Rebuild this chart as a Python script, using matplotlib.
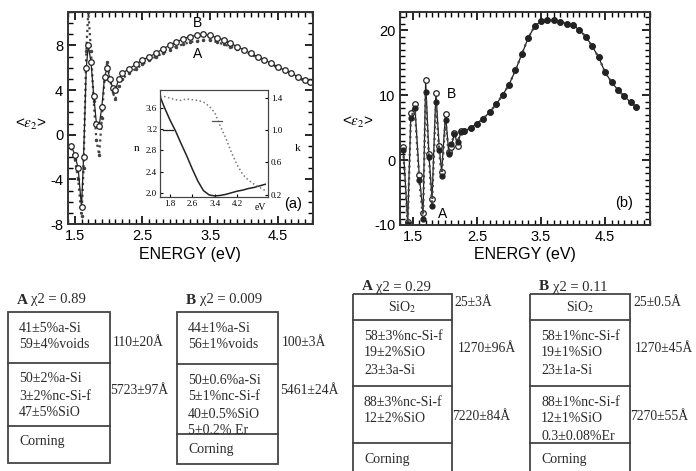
import matplotlib
matplotlib.use("Agg")
import matplotlib.pyplot as plt
from matplotlib.patches import Rectangle
from matplotlib.ticker import MultipleLocator

plt.rcParams["font.family"] = ["Liberation Sans", "DejaVu Sans"]
plt.rcParams["mathtext.fontset"] = "stix"
plt.rcParams["axes.unicode_minus"] = False

# ---- panel (a): pseudo-dielectric function, sample on Corning glass
energy_a = [1.45, 1.50, 1.55, 1.60, 1.63, 1.67, 1.70, 1.74, 1.78, 1.82, 1.86, 1.90,
            1.94, 1.98, 2.02, 2.06, 2.10, 2.15, 2.20, 2.30, 2.40, 2.50, 2.60, 2.70,
            2.80, 2.90, 3.00, 3.10, 3.20, 3.30, 3.40, 3.50, 3.60, 3.70, 3.80, 3.90,
            4.00, 4.10, 4.20, 4.30, 4.40, 4.50, 4.60, 4.70, 4.80, 4.90, 4.98]
eps2_a_B = [-1.0, -1.8, -3.0, -6.5, -2.0, 6.0, 8.0, 6.5, 3.5, 1.0, 0.8, 2.5,
            5.2, 6.0, 5.0, 4.2, 4.0, 5.0, 5.5, 5.9, 6.3, 6.7, 7.0, 7.3,
            7.7, 8.0, 8.3, 8.6, 8.8, 8.9, 9.0, 8.9, 8.7, 8.5, 8.2, 7.9,
            7.6, 7.3, 7.0, 6.7, 6.4, 6.1, 5.8, 5.5, 5.2, 4.9, 4.7]
eps2_a_A = [-1.2, -2.2, -4.0, -7.3, -3.0, 7.5, 11.0, 7.5, 3.0, -0.5, -1.8, 1.5,
            5.0, 6.5, 5.0, 3.8, 3.2, 4.4, 5.0, 5.5, 5.9, 6.3, 6.7, 7.0,
            7.3, 7.6, 7.9, 8.1, 8.3, 8.4, 8.5, 8.5, 8.3, 8.1, 7.9, 7.7,
            7.5, 7.2, 6.9, 6.6, 6.3, 6.0, 5.7, 5.4, 5.1, 4.8, 4.6]

# inset: optical constants n, k
energy_in = [1.45, 1.6, 1.8, 2.0, 2.2, 2.4, 2.6, 2.8, 3.0, 3.2, 3.4, 3.6, 3.8, 4.0,
             4.2, 4.4, 4.6, 4.8, 5.0, 5.2]
n_in = [3.82, 3.62, 3.38, 3.17, 2.93, 2.70, 2.45, 2.22, 2.04, 1.96, 1.94, 1.95, 1.97,
        2.00, 2.03, 2.05, 2.08, 2.10, 2.13, 2.16]
k_in = [1.42, 1.42, 1.40, 1.38, 1.37, 1.39, 1.38, 1.37, 1.35, 1.30, 1.22, 1.05, 0.90,
        0.72, 0.57, 0.45, 0.38, 0.33, 0.29, 0.25]

# ---- panel (b): sample on c-Si
energy_b = [1.35, 1.42, 1.47, 1.53, 1.60, 1.66, 1.70, 1.75, 1.80, 1.86, 1.91, 1.95,
            2.01, 2.06, 2.10, 2.15, 2.20, 2.25, 2.30, 2.40, 2.50, 2.60, 2.70, 2.80,
            2.90, 3.00, 3.10, 3.20, 3.30, 3.40, 3.50, 3.60, 3.70, 3.80, 3.90, 4.00,
            4.10, 4.20, 4.30, 4.40, 4.50, 4.60, 4.70, 4.80, 4.90, 4.98]
eps2_b_B = [2.0, -9.5, 7.2, 8.6, -2.3, -8.2, 12.3, 1.0, -6.0, 10.4, 2.2, -1.8,
            7.1, 1.2, 2.0, 4.2, 2.2, 4.5, 4.4, 5.0, 5.6, 6.4, 7.4, 8.6,
            10.0, 11.6, 13.8, 16.3, 18.8, 20.6, 21.4, 21.6, 21.5, 21.3, 21.0, 20.8,
            20.0, 19.0, 17.5, 15.8, 13.5, 12.0, 10.8, 9.8, 8.9, 8.2]
eps2_b_A = [1.5, -9.8, 6.5, 8.0, -3.0, -9.0, 10.5, 0.5, -7.0, 9.0, 1.5, -2.5,
            6.2, 1.0, 2.5, 4.0, 2.8, 4.3, 4.4, 5.0, 5.6, 6.4, 7.4, 8.6,
            10.0, 11.6, 13.8, 16.3, 18.8, 20.6, 21.4, 21.6, 21.5, 21.3, 21.0, 20.8,
            20.0, 19.0, 17.5, 15.8, 13.5, 12.0, 10.8, 9.8, 8.9, 8.2]

# ---- layer stacks (fit models)
stack_names = ["A", "B", "A", "B"]
stack_chi2 = ["0.89", "0.009", "0.29", "0.11"]
stack_layers = [
    [["41±5%a-Si", "59±4%voids"], ["50±2%a-Si", "3±2%nc-Si-f", "47±5%SiO"], ["Corning"]],
    [["44±1%a-Si", "56±1%voids"], ["50±0.6%a-Si", "5±1%nc-Si-f", "40±0.5%SiO", "5±0.2% Er"],
     ["Corning"]],
    [["SiO$_2$"], ["58±3%nc-Si-f", "19±2%SiO", "23±3a-Si"], ["88±3%nc-Si-f", "12±2%SiO"],
     ["Corning"]],
    [["SiO$_2$"], ["58±1%nc-Si-f", "19±1%SiO", "23±1a-Si"],
     ["88±1%nc-Si-f", "12±1%SiO", "0.3±0.08%Er"], ["Corning"]],
]
stack_thickness = [["110±20Å", "5723±97Å"], ["100±3Å", "5461±24Å"],
                   ["25±3Å", "1270±96Å", "7220±84Å"], ["25±0.5Å", "1270±45Å", "7270±55Å"]]

W, H = 696, 471


def px_axes(fig, left, top, right, bottom):
    return fig.add_axes([left / W, 1 - bottom / H, (right - left) / W, (bottom - top) / H])


def style_axes(ax, ymajor, yminor):
    ax.set_xticks([1.5, 2.5, 3.5, 4.5])
    ax.xaxis.set_minor_locator(MultipleLocator(0.1))
    ax.yaxis.set_major_locator(MultipleLocator(ymajor))
    ax.yaxis.set_minor_locator(MultipleLocator(yminor))
    ax.tick_params(which="both", direction="in", top=True, right=True, labelsize=10.5)
    ax.tick_params(which="major", length=6, width=1.2)
    ax.tick_params(which="minor", length=3.5, width=1.0)
    for s in ax.spines.values():
        s.set_linewidth(1.4)
        s.set_color("#333333")


fig = plt.figure(figsize=(W / 100, H / 100), dpi=100)

# background axes for the layer diagrams, in pixel coordinates
bg = fig.add_axes([0, 0, 1, 1])
bg.set_xlim(0, W)
bg.set_ylim(H, 0)
bg.axis("off")

# panel (a)
ax_a = px_axes(fig, 68, 12, 313, 224)
ax_a.plot(energy_a, eps2_a_A, ls=":", lw=1.6, color="#444444", marker=".", ms=3)
ax_a.plot(energy_a, eps2_a_B, ls="-", lw=0.9, color="#222222", marker="o", ms=4,
          mfc="white", mec="#222222", mew=0.9)
ax_a.set_xlim(1.4, 5.02)
ax_a.set_ylim(-8, 11)
style_axes(ax_a, 4, 1)
ax_a.text(3.31, 10.0, "B", fontsize=10, ha="center", va="center")
ax_a.text(3.31, 7.2, "A", fontsize=10, ha="center", va="center")
ax_a.text(0.955, 0.06, "(a)", transform=ax_a.transAxes, fontsize=10.5, ha="right", va="bottom")

# inset
ax_in = px_axes(fig, 160, 90, 268, 197)
ax_in.plot(energy_in, n_in, color="#222222", lw=1.1)
ax_in.plot([1.55, 1.9], [3.18, 3.18], color="#222222", lw=0.9)
ax_in.set_xlim(1.45, 5.3)
ax_in.set_ylim(1.92, 3.94)
ax_in.set_xticks([1.8, 2.6, 3.4, 4.2])
ax_in.set_yticks([2.0, 2.4, 2.8, 3.2, 3.6])
ax_in.tick_params(direction="in", labelsize=6.5, length=2.5, width=0.8, pad=2)
for lab in ax_in.get_xticklabels() + ax_in.get_yticklabels():
    lab.set_fontfamily("Liberation Serif")
ax_in2 = ax_in.twinx()
ax_in2.plot(energy_in, k_in, color="#777777", lw=1.1, ls=":")
ax_in2.plot([3.3, 3.67], [1.12, 1.12], color="#555555", lw=0.9)
ax_in2.set_ylim(0.17, 1.5)
ax_in2.set_yticks([0.2, 0.6, 1.0, 1.4])
ax_in2.tick_params(direction="in", labelsize=6.5, length=2.5, width=0.8, pad=2)
for lab in ax_in2.get_yticklabels():
    lab.set_fontfamily("Liberation Serif")
for s in list(ax_in.spines.values()) + list(ax_in2.spines.values()):
    s.set_linewidth(0.8)
    s.set_color("#444444")
ax_in.text(-0.22, 0.45, "n", transform=ax_in.transAxes, fontsize=8,
           family="Liberation Serif", ha="center", va="center")
ax_in2.text(1.27, 0.45, "k", transform=ax_in2.transAxes, fontsize=8,
            family="Liberation Serif", ha="center", va="center")
ax_in.text(0.93, -0.1, "eV", transform=ax_in.transAxes, fontsize=7,
           family="Liberation Serif", ha="center", va="center")

# panel (b): open-circle fit first, filled data on top
ax_b = px_axes(fig, 400, 12, 650, 225)
ax_b.plot(energy_b, eps2_b_B, ls="-", lw=0.9, color="#222222", marker="o", ms=4,
          mfc="white", mec="#222222", mew=0.9)
ax_b.plot(energy_b, eps2_b_A, ls=":", lw=1.6, color="#444444", marker="o", ms=3.5,
          mfc="#222222", mec="#222222")
ax_b.set_xlim(1.3, 5.2)
ax_b.set_ylim(-10, 22.8)
style_axes(ax_b, 10, 1)
ax_b.text(2.03, 10.2, "B", fontsize=10, ha="left", va="center")
ax_b.text(1.9, -8.3, "A", fontsize=10, ha="left", va="center")
ax_b.text(0.93, 0.07, "(b)", transform=ax_b.transAxes, fontsize=10.5, ha="right", va="bottom")

# axis titles
for cx in (190, 525):
    fig.text(cx / W, 1 - 255 / H, "ENERGY (eV)", fontsize=11.5, ha="center", va="center")
fig.text(31 / W, 1 - 124 / H, r"<$\varepsilon_2$>", fontsize=11, ha="center", va="center")
fig.text(358 / W, 1 - 122 / H, r"<$\varepsilon_2$>", fontsize=11, ha="center", va="center")

# layer diagrams
box_x = [8, 177, 353, 530]
box_w = [102, 101, 99, 100]
layer_edges = [[312, 363, 426, 463], [312, 364, 434, 464],
               [294, 320, 386, 443, 478], [294, 320, 386, 443, 478]]
title_y = [300, 300, 287, 287]
thick_pos = [[(113, 342), (110, 390)], [(282, 342), (280, 390)],
             [(454, 303), (458, 348), (452, 417)], [(633, 303), (635, 348), (630, 417)]]
serif = "Liberation Serif"
tcol = "#2a2a2a"
for i in range(4):
    x0, w, edges = box_x[i], box_w[i], layer_edges[i]
    bg.add_patch(Rectangle((x0, edges[0]), w, edges[-1] - edges[0], fill=False,
                           lw=1.3, ec="#444444"))
    for e in edges[1:-1]:
        bg.plot([x0, x0 + w], [e, e], color="#444444", lw=1.3)
    bg.text(x0 + 9, title_y[i], stack_names[i], fontsize=11, family=serif,
            fontweight="bold", ha="left", va="center", color=tcol)
    bg.text(x0 + 23, title_y[i], "χ2 = " + stack_chi2[i], fontsize=10.5, family=serif,
            ha="left", va="center", color=tcol)
    for j, lines in enumerate(stack_layers[i]):
        top = edges[j]
        if lines[0].startswith("SiO$"):
            bg.text(x0 + w / 2, (edges[j] + edges[j + 1]) / 2, lines[0], fontsize=10,
                    family=serif, ha="center", va="center", color=tcol)
            continue
        for m, line in enumerate(lines):
            bg.text(x0 + 11, top + 16 + 17 * m, line, fontsize=10, family=serif,
                    ha="left", va="center", color=tcol)
    for label, (tx, ty) in zip(stack_thickness[i], thick_pos[i]):
        bg.text(tx, ty, label, fontsize=9.8, family=serif, ha="left", va="center", color=tcol)

fig.savefig("out.png", dpi=100)
